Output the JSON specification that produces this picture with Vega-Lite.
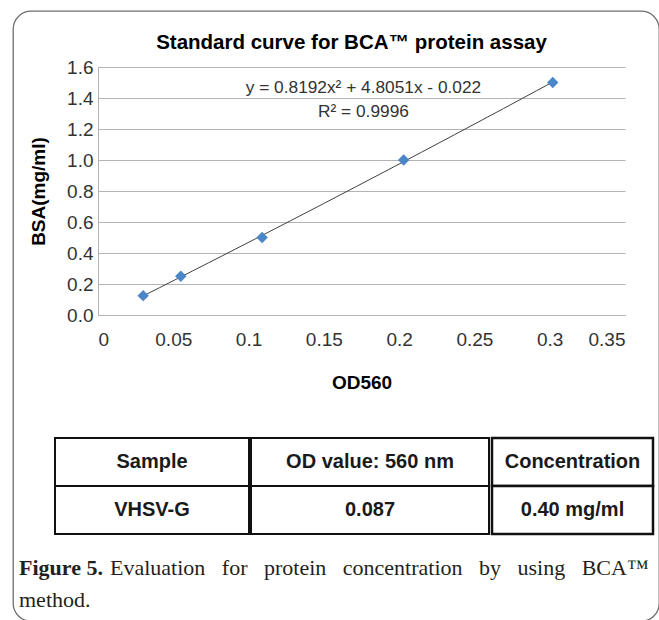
{
  "$schema": "https://vega.github.io/schema/vega-lite/v6.json",
  "background": "white",
  "padding": {"left": 12, "top": 10, "right": 0, "bottom": 0},
  "config": {"font": "Liberation Sans", "view": {"stroke": null}},
  "datasets": {
    "standards": [
      {"od": 0.03, "bsa": 0.125},
      {"od": 0.055, "bsa": 0.25},
      {"od": 0.109, "bsa": 0.5},
      {"od": 0.203, "bsa": 1.0},
      {"od": 0.302, "bsa": 1.5}
    ],
    "equation": [
      {"label": "y = 0.8192x² + 4.8051x - 0.022", "line": 1},
      {"label": "R² = 0.9996", "line": 2}
    ],
    "table": [
      {"column": "Sample", "row": "Header", "value": "Sample"},
      {"column": "Sample", "row": "Data", "value": "VHSV-G"},
      {"column": "OD", "row": "Header", "value": "OD value: 560 nm"},
      {"column": "OD", "row": "Data", "value": "0.087"},
      {"column": "Conc", "row": "Header", "value": "Concentration"},
      {"column": "Conc", "row": "Data", "value": "0.40 mg/ml"}
    ],
    "caption": [
      {"line": 1, "part": "bold", "text": "Figure 5."},
      {"line": 1, "part": "normal", "text": "Evaluation \u2002for \u2002protein \u2002concentration \u2002by \u2002using \u2002BCA™"},
      {"line": 2, "part": "normal", "text": "method."}
    ],
    "empty": []
  },
  "columns": 1,
  "align": "none",
  "spacing": -590,
  "concat": [
    {
      "width": 646, "height": 610,
      "data": {"name": "empty"},
      "mark": "point",
      "view": {"stroke": "#6e6e6e", "strokeWidth": 1.3, "cornerRadius": 18}
    },
    {
      "spacing": 44,
      "vconcat": [
        {
          "spacing": 0,
          "hconcat": [
            {"width": 16, "height": 0.01, "data": {"name": "empty"}, "mark": "point"},
            {
              "width": 527,
              "height": 248,
              "title": {"text": "Standard curve for BCA™ protein assay", "fontSize": 20.5, "fontWeight": "bold", "color": "black", "offset": 5, "anchor": "middle", "frame": "group", "dx": -10},
              "layer": [
                {
                  "data": {"name": "standards"},
                  "transform": [{"regression": "bsa", "on": "od", "method": "poly", "order": 2}],
                  "mark": {"type": "line", "color": "#404040", "strokeWidth": 1},
                  "encoding": {
                    "x": {"field": "od", "type": "quantitative", "scale": {"domain": [0, 0.35], "nice": false},
                      "axis": {"values": [0, 0.05, 0.1, 0.15, 0.2, 0.25, 0.3, 0.35], "tickCount": 10, "format": "~g", "grid": false, "ticks": false,
                        "domainColor": "#b3b3b3", "labelFontSize": 19, "labelColor": "#333333", "labelPadding": 15,
                        "title": "OD560", "titleFontSize": 19, "titleFontWeight": "bold", "titleColor": "black", "titlePadding": 24}},
                    "y": {"field": "bsa", "type": "quantitative", "scale": {"domain": [0, 1.6], "nice": false},
                      "axis": {"values": [0, 0.2, 0.4, 0.6, 0.8, 1.0, 1.2, 1.4, 1.6], "tickCount": 10, "format": ".1f", "grid": true, "gridColor": "#b3b3b3",
                        "ticks": false, "domainColor": "#b3b3b3", "labelFontSize": 19, "labelColor": "#333333", "labelPadding": 5,
                        "title": "BSA(mg/ml)", "titleFontSize": 19, "titleFontWeight": "bold", "titleColor": "black", "titlePadding": 18}}
                  }
                },
                {
                  "data": {"name": "standards"},
                  "mark": {"type": "point", "shape": "diamond", "filled": true, "color": "#4a86c8", "opacity": 1, "size": 130},
                  "encoding": {
                    "x": {"field": "od", "type": "quantitative"},
                    "y": {"field": "bsa", "type": "quantitative"}
                  }
                },
                {
                  "data": {"name": "equation"},
                  "transform": [{"filter": "datum.line === 1"}],
                  "mark": {"type": "text", "fontSize": 17.3, "color": "#333333"},
                  "encoding": {
                    "x": {"datum": 0.1763},
                    "y": {"datum": 1.4645},
                    "text": {"field": "label"}
                  }
                },
                {
                  "data": {"name": "equation"},
                  "transform": [{"filter": "datum.line === 2"}],
                  "mark": {"type": "text", "fontSize": 17.3, "color": "#333333"},
                  "encoding": {
                    "x": {"datum": 0.1763},
                    "y": {"datum": 1.3097},
                    "text": {"field": "label"}
                  }
                }
              ]
            }
          ]
        },
        {
          "spacing": 21,
          "vconcat": [
            {
              "spacing": 0,
              "hconcat": [
                {"width": 41, "height": 0.01, "data": {"name": "empty"}, "mark": "point"},
                {
                  "width": 194, "height": 96,
                  "data": {"name": "table"},
                  "transform": [{"filter": "datum.column === 'Sample'"}],
                  "layer": [
                    {"mark": {"type": "rect", "fill": "white", "stroke": "#111", "strokeWidth": 2},
                     "encoding": {"y": {"field": "row", "type": "nominal", "sort": ["Header", "Data"], "scale": {"paddingInner": 0, "paddingOuter": 0}, "axis": null}}},
                    {"mark": {"type": "text", "fontSize": 20, "fontWeight": "bold", "color": "#1a1a1a"},
                     "encoding": {"y": {"field": "row", "type": "nominal", "sort": ["Header", "Data"], "axis": null}, "text": {"field": "value"}}}
                  ]
                },
                {
                  "width": 238, "height": 96,
                  "data": {"name": "table"},
                  "transform": [{"filter": "datum.column === 'OD'"}],
                  "layer": [
                    {"mark": {"type": "rect", "fill": "white", "stroke": "#111", "strokeWidth": 2},
                     "encoding": {"y": {"field": "row", "type": "nominal", "sort": ["Header", "Data"], "scale": {"paddingInner": 0, "paddingOuter": 0}, "axis": null}}},
                    {"mark": {"type": "text", "fontSize": 20, "fontWeight": "bold", "color": "#1a1a1a"},
                     "encoding": {"y": {"field": "row", "type": "nominal", "sort": ["Header", "Data"], "axis": null}, "text": {"field": "value"}}}
                  ]
                },
                {
                  "width": 161, "height": 96,
                  "data": {"name": "table"},
                  "transform": [{"filter": "datum.column === 'Conc'"}],
                  "layer": [
                    {"mark": {"type": "rect", "fill": "white", "stroke": "#111", "strokeWidth": 2.5},
                     "encoding": {"y": {"field": "row", "type": "nominal", "sort": ["Header", "Data"], "scale": {"paddingInner": 0, "paddingOuter": 0}, "axis": null}}},
                    {"mark": {"type": "text", "fontSize": 20, "fontWeight": "bold", "color": "#1a1a1a"},
                     "encoding": {"y": {"field": "row", "type": "nominal", "sort": ["Header", "Data"], "axis": null}, "text": {"field": "value"}}}
                  ]
                }
              ]
            },
            {
              "spacing": 0,
              "hconcat": [
                {"width": 6, "height": 0.01, "data": {"name": "empty"}, "mark": "point"},
                {
                  "width": 630, "height": 64,
                  "data": {"name": "caption"},
                  "layer": [
                    {
                      "transform": [{"filter": "datum.part === 'bold'"}],
                      "mark": {"type": "text", "font": "Liberation Serif", "fontSize": 22, "fontWeight": "bold", "align": "left", "baseline": "alphabetic", "color": "#231f20"},
                      "encoding": {
                        "x": {"value": 0},
                        "y": {"field": "line", "type": "ordinal", "scale": {"domain": [1, 2], "paddingOuter": 0.5}, "axis": null},
                        "text": {"field": "text"}
                      }
                    },
                    {
                      "transform": [{"filter": "datum.part === 'normal' && datum.line === 1"}],
                      "mark": {"type": "text", "font": "Liberation Serif", "fontSize": 22, "align": "left", "baseline": "alphabetic", "dx": 91, "color": "#231f20"},
                      "encoding": {
                        "x": {"value": 0},
                        "y": {"field": "line", "type": "ordinal", "axis": null},
                        "text": {"field": "text"}
                      }
                    },
                    {
                      "transform": [{"filter": "datum.part === 'normal' && datum.line === 2"}],
                      "mark": {"type": "text", "font": "Liberation Serif", "fontSize": 22, "align": "left", "baseline": "alphabetic", "color": "#231f20"},
                      "encoding": {
                        "x": {"value": 0},
                        "y": {"field": "line", "type": "ordinal", "axis": null},
                        "text": {"field": "text"}
                      }
                    }
                  ]
                }
              ]
            }
          ]
        }
      ]
    }
  ]
}
